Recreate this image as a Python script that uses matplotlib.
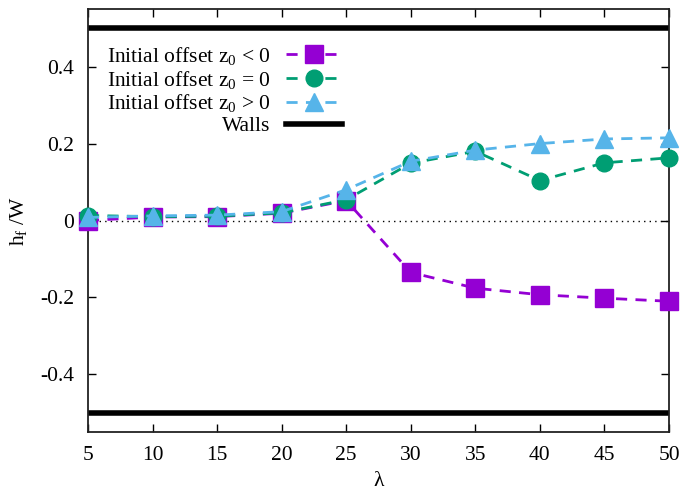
import numpy as np
import matplotlib
matplotlib.use('Agg')
import matplotlib.pyplot as plt
from matplotlib.lines import Line2D

plt.rcParams['font.family'] = ['Liberation Serif', 'DejaVu Serif']
plt.rcParams['mathtext.fontset'] = 'custom'
plt.rcParams['mathtext.rm'] = 'Liberation Serif'
plt.rcParams['mathtext.it'] = 'Liberation Serif:italic'

# data
lam = [5, 10, 15, 20, 25, 30, 35, 40, 45, 50]
h_neg = [0.0, 0.009, 0.010, 0.019, 0.052, -0.135, -0.176, -0.193, -0.202, -0.210]
h_zero = [0.013, 0.010, 0.011, 0.020, 0.054, 0.149, 0.180, 0.104, 0.150, 0.163]
h_pos = [0.008, 0.012, 0.014, 0.023, 0.080, 0.154, 0.183, 0.200, 0.212, 0.215]
walls = [0.5, -0.5]

labels = ['Initial offset z$_\\mathregular{0}$ < 0',
          'Initial offset z$_\\mathregular{0}$ = 0',
          'Initial offset z$_\\mathregular{0}$ > 0']
colors = ['#9400D3', '#009E73', '#56B4E9']
markers = ['s', 'o', '^']
msizes = [12.5, 12, 12.5]

yticks = [-0.4, -0.2, 0, 0.2, 0.4]
ytick_labels = ['-0.4', '-0.2', '0', '0.2', '0.4']
xticks = [5, 10, 15, 20, 25, 30, 35, 40, 45, 50]

fs = 15.5
fig = plt.figure(figsize=(6.82, 4.92), dpi=100)
ax = fig.add_axes([88 / 682, 60 / 492, 581 / 682, 423 / 492])

ax.axhline(0, color='black', lw=1, ls=(0, (1, 3)), zorder=1)
for w in walls:
    ax.axhline(w, color='black', lw=4, zorder=2)

handles = []
for y, lab, c, m, ms in zip([h_neg, h_zero, h_pos], labels, colors, markers, msizes):
    ax.plot(lam, y, color=c, lw=2, ls=(0, (4, 3)), marker=m, ms=ms,
            clip_on=False, zorder=3)
    handles.append(Line2D([], [], color=c, lw=2, ls=(0, (4, 3)), marker=m, ms=ms))
handles.append(Line2D([], [], color='black', lw=4))

ax.set_xlim(5, 50)
ax.set_ylim(-0.55, 0.55)
ax.set_xticks(xticks)
ax.set_yticks(yticks)
ax.set_yticklabels(ytick_labels)
ax.tick_params(direction='in', length=6, width=1, labelsize=fs, top=True, right=True, pad=10)
for s in ax.spines.values():
    s.set_linewidth(1.3)
    s.set_color('#222222')

ax.set_xlabel('λ', fontsize=fs, labelpad=5)
ax.set_ylabel('h$_\\mathregular{f}$ /W', fontsize=fs, labelpad=8)

ax.legend(handles, labels + ['Walls'], loc='upper left', bbox_to_anchor=(0.033, 0.915),
          markerfirst=False, frameon=False, fontsize=fs, handlelength=2.6,
          labelspacing=0.08, handletextpad=0.7, borderaxespad=0, borderpad=0)

fig.savefig('out.png', dpi=100)
